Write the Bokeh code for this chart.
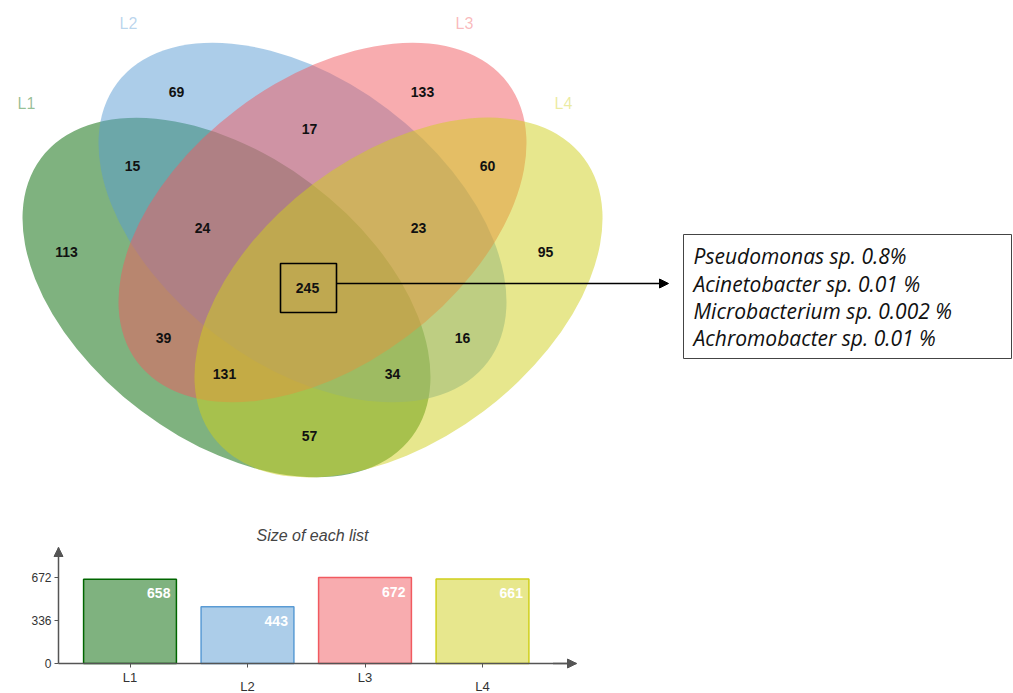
import math
from bokeh.plotting import figure
from bokeh.models import Range1d, ColumnDataSource, Arrow, NormalHead, LabelSet, Label, FixedTicker
from bokeh.layouts import column
from bokeh.embed import file_html
from bokeh.resources import INLINE
from bokeh.core.properties import value

# ---------------- data ----------------
set_names = ["L1", "L2", "L3", "L4"]
set_sizes = [658, 443, 672, 661]
set_colors = ["#006600", "#5a9bd4", "#f15a60", "#cfcf1b"]

region_names = ["L1", "L2", "L3", "L4",
                "L1&L2", "L2&L3", "L3&L4", "L1&L4",
                "L1&L2&L3", "L2&L3&L4", "L1&L3", "L2&L4",
                "L1&L3&L4", "L1&L2&L4", "L1&L2&L3&L4"]
region_counts = [113, 69, 133, 95,
                 15, 17, 60, 57,
                 24, 23, 39, 16,
                 131, 34, 245]

species_lines = ["Pseudomonas sp. 0.8%",
                 "Acinetobacter sp. 0.01 %",
                 "Microbacterium sp. 0.002  %",
                 "Achromobacter sp. 0.01 %"]

y_ticks = [0, 336, 672]
bar_title = "Size of each list"

# ---------------- layout (pixel positions in the Venn panel) ----------------
ell_x = [226, 302, 322, 398]
ell_y = [297, 222, 222, 297]
ell_angle = [-37, -37, 37, 37]
ell_w = 464
ell_h = 284
set_label_x = [26, 128, 464, 563]
set_label_y = [103, 23, 23, 103]
region_x = [66, 176, 422, 545, 132, 309, 487, 309, 202, 418, 163, 462, 224, 392, 307]
region_y = [251, 91, 91, 251, 165, 128, 165, 435, 227, 227, 337, 337, 373, 373, 287]
species_y = [255, 283, 310, 337]

FONT = "Liberation Sans"
W1, H1 = 1013, 518
W2, H2 = 600, 175

# ---------------- Venn panel ----------------
p1 = figure(width=W1, height=H1, x_range=Range1d(0, W1), y_range=Range1d(H1, 0),
            output_backend="svg", toolbar_location=None,
            min_border_left=0, min_border_right=0, min_border_top=0, min_border_bottom=0)
p1.axis.visible = False
p1.grid.visible = False
p1.outline_line_color = None

for i in range(4):
    p1.ellipse(x=[ell_x[i]], y=[ell_y[i]], width=ell_w, height=ell_h,
               angle=math.radians(ell_angle[i]),
               fill_color=set_colors[i], fill_alpha=0.5, line_color=None)

p1.text(x=set_label_x, y=set_label_y, text=set_names, text_color=set_colors, text_alpha=0.42,
        text_font=value(FONT), text_font_size="16px", text_align="center", text_baseline="middle")

p1.text(x=region_x, y=region_y, text=[str(c) for c in region_counts], text_color="#111111",
        text_font=value(FONT), text_font_size="14px", text_font_style="bold",
        text_align="center", text_baseline="middle")

# highlight box around the core region
p1.quad(left=[280], right=[336], top=[263], bottom=[312], fill_color=None,
        line_color="black", line_width=1.6)

p1.add_layout(Arrow(end=NormalHead(size=9, fill_color="black", line_color="black"),
                    x_start=336, y_start=283, x_end=668, y_end=283,
                    line_color="black", line_width=1.3))

# species box
p1.quad(left=[683], right=[1011], top=[234], bottom=[358], fill_color="white",
        line_color="#444444", line_width=1)
p1.text(x=[693] * 4, y=species_y, text=species_lines, text_color="#111111",
        text_font=value("Open Sans"), text_font_size="21px", text_font_style="italic",
        text_align="left", text_baseline="middle")

# ---------------- bar panel ----------------
px_per_unit = 86 / 672.0          # screen px per data unit on y
px_per_cat = 117.5                # screen px per category step on x
x0_px = 12                        # screen x of category coordinate 0
base_px = 663 - H1                # screen y (inside p2) of value 0
p2 = figure(width=W2, height=H2,
            x_range=Range1d(-x0_px / px_per_cat, (W2 - x0_px) / px_per_cat),
            y_range=Range1d(-(H2 - base_px) / px_per_unit, base_px / px_per_unit),
            output_backend="svg", toolbar_location=None,
            min_border_left=0, min_border_right=0, min_border_top=0, min_border_bottom=0)
p2.grid.visible = False
p2.outline_line_color = None

xs = [1, 2, 3, 4]
src = ColumnDataSource(dict(x=xs, top=set_sizes, name=set_names, color=set_colors))
p2.vbar(x="x", top="top", width=0.79, bottom=0, source=src, fill_color="color",
        fill_alpha=0.5, line_color="color", line_width=1.5)
p2.text(x=[x + 0.395 for x in xs], y=set_sizes, text=[str(v) for v in set_sizes],
        x_offset=-6, y_offset=14, text_color="white", text_font=value(FONT),
        text_font_size="14px", text_font_style="bold", text_align="right", text_baseline="middle")

axis_col = "#555555"
ax_left = (58 - x0_px) / px_per_cat
ax_right = (576 - x0_px) / px_per_cat
ax_top = (663 - 547) / px_per_unit

yax = p2.yaxis[0]
yax.fixed_location = ax_left
yax.ticker = FixedTicker(ticks=y_ticks)
yax.bounds = (0, ax_top)
yax.axis_line_color = axis_col
yax.axis_line_width = 1.5
yax.major_tick_in = 0
yax.major_tick_out = 4
yax.minor_tick_line_color = None
yax.major_tick_line_color = axis_col
yax.major_label_standoff = 3
yax.major_label_text_font = FONT
yax.major_label_text_font_size = "12px"
yax.major_label_text_color = "#333333"

xax = p2.xaxis[0]
xax.fixed_location = 0
xax.ticker = FixedTicker(ticks=xs)
xax.bounds = (ax_left, ax_right)
xax.axis_line_color = axis_col
xax.axis_line_width = 1.5
xax.major_tick_in = 0
xax.major_tick_out = 4
xax.minor_tick_line_color = None
xax.major_tick_line_color = axis_col
xax.major_label_overrides = {1: "", 2: "", 3: "", 4: ""}

p2.add_layout(Arrow(end=NormalHead(size=9, fill_color=axis_col, line_color=axis_col),
                    x_start=ax_left, y_start=ax_top - 10, x_end=ax_left, y_end=ax_top,
                    line_color=axis_col, line_width=1.5))
p2.add_layout(Arrow(end=NormalHead(size=9, fill_color=axis_col, line_color=axis_col),
                    x_start=ax_right - 0.2, y_start=0, x_end=ax_right, y_end=0,
                    line_color=axis_col, line_width=1.5))

lab_src = ColumnDataSource(dict(x=xs, y=[0] * 4, text=set_names, off=[-14, -23, -14, -23]))
p2.add_layout(LabelSet(x="x", y="y", text="text", y_offset="off", source=lab_src,
                       text_font=value(FONT), text_font_size="13px", text_color="#333333",
                       text_align="center", text_baseline="middle"))

p2.add_layout(Label(x=(312 - x0_px) / px_per_cat, y=(663 - 535) / px_per_unit, text=bar_title,
                    text_font=FONT, text_font_size="16px", text_font_style="italic",
                    text_color="#444444", text_align="center", text_baseline="middle"))

layout = column(p1, p2)
open("out.html", "w").write(file_html(layout, INLINE))
